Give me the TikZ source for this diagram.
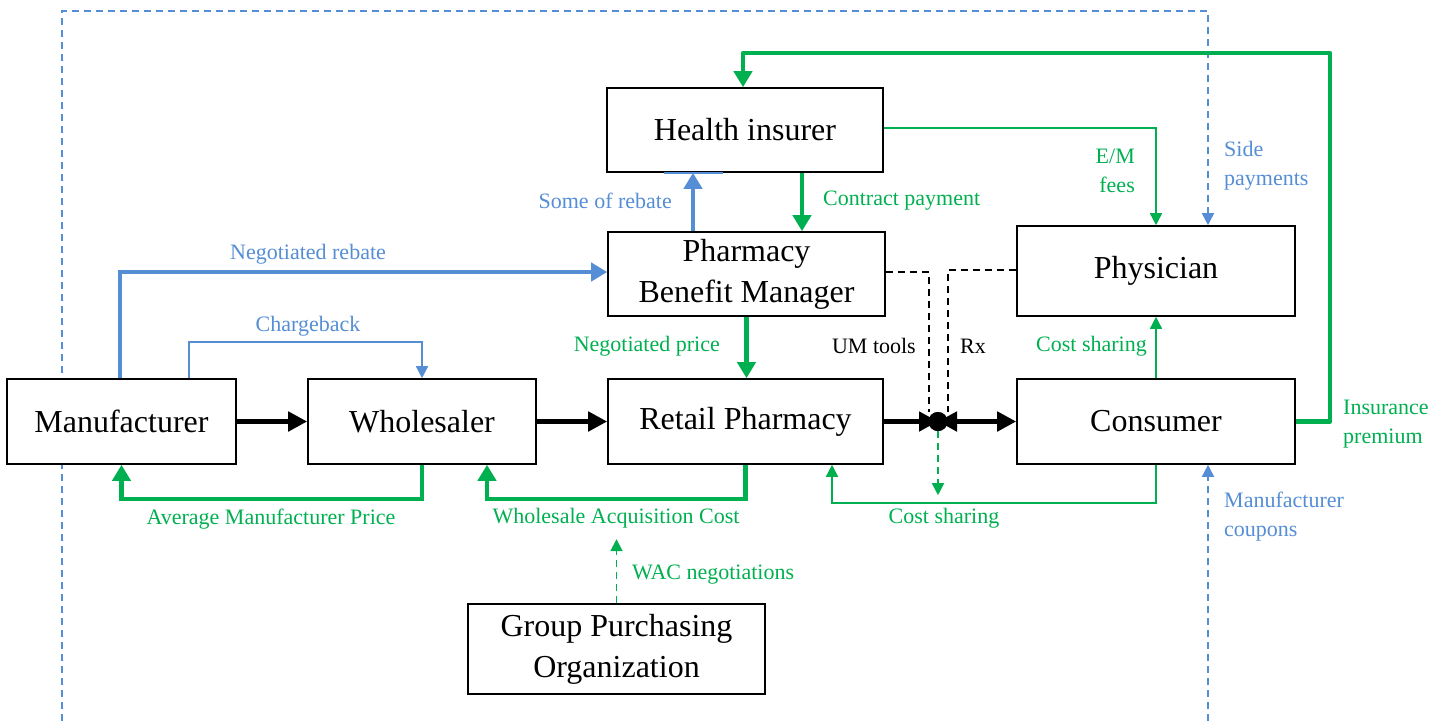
\documentclass[tikz,border=0pt]{standalone}
\usepackage{fontspec}
\setmainfont{Liberation Serif}
\usetikzlibrary{arrows.meta}
\pgfdeclarelayer{background}
\pgfsetlayers{background,main}
\definecolor{myblue}{RGB}{85,142,213}
\definecolor{mygreen}{RGB}{0,176,80}
\begin{document}
\begin{tikzpicture}[x=1pt,y=-1pt,
  box/.style={draw=black, line width=1.6pt, fill=white, inner sep=0pt, align=center,
    font=\fontsize{32}{41}\selectfont},
  lbl/.style={inner sep=0pt, font=\fontsize{22}{29}\selectfont},
  bl/.style={lbl, text=myblue},
  gl/.style={lbl, text=mygreen},
  kl/.style={lbl, text=black},
  blk/.style={line width=5pt, black},
  bthick/.style={line width=4.5pt, myblue},
  bthin/.style={line width=1.6pt, myblue},
  bdash/.style={line width=1.6pt, myblue, dash pattern=on 7pt off 5pt},
  gthick/.style={line width=4.5pt, mygreen},
  gthin/.style={line width=1.6pt, mygreen},
  gdash/.style={line width=1.8pt, mygreen, dash pattern=on 7pt off 5pt},
  kdash/.style={line width=1.6pt, black, dash pattern=on 7pt off 5pt},
  bigtip/.style={-{Triangle[length=19pt,width=19pt]}},
  midtip/.style={-{Triangle[length=16pt,width=18pt]}},
  smalltip/.style={-{Triangle[length=12pt,width=12pt]}},
]
\useasboundingbox (0,0) rectangle (1451,721);

\coordinate (bleft) at (62,721);
\coordinate (btop) at (1208,11);
\coordinate (bright) at (1208,721);
\coordinate (ip) at (1330,53);

% nodes
\node[box, minimum width=229, minimum height=85] (man) at (121.5,421.5) {Manufacturer};
\node[box, minimum width=228, minimum height=85] (whl) at (422,421.5) {Wholesaler};
\node[box, minimum width=275, minimum height=85] (ret) at (745.5,421.5) {Retail Pharmacy};
\node[box, minimum width=278, minimum height=85] (con) at (1156,421.5) {Consumer};
\node[box, minimum width=278, minimum height=90] (phy) at (1156,271) {Physician};
\node[box, minimum width=277, minimum height=84] (pbm) at (746.5,274) {Pharmacy\\Benefit Manager};
\node[box, minimum width=276, minimum height=84] (hi) at (745,130) {Health insurer};
\node[box, minimum width=297, minimum height=90] (gpo) at (616.5,649) {Group Purchasing\\Organization};
\node[circle, fill=black, minimum size=19pt, inner sep=0pt] (dot) at (938,421.5) {};

\begin{pgfonlayer}{background}
% blue dashed lines
\draw[bdash, smalltip] (bleft) |- (btop) -- (btop |- phy.north);
\draw[bdash, smalltip] (bright) -- (bright |- con.south);
\end{pgfonlayer}

% black main flow
\draw[blk, bigtip] (man.east) -- (whl.west);
\draw[blk, bigtip] (whl.east) -- (ret.west);
\draw[blk, bigtip] (ret.east) -- (dot.center);
\draw[blk, {Triangle[length=19pt,width=19pt]}-{Triangle[length=19pt,width=19pt]}] (dot.center) -- (con.west);
\node[circle, fill=black, minimum size=19pt, inner sep=0pt] at (dot) {};

% black dashed
\draw[kdash] ([yshift=2pt]pbm.east) -| ([xshift=-9pt]dot.north);
\draw[kdash] ([yshift=1pt]phy.west) -| ([xshift=10pt]dot.north);
\draw[gdash, smalltip] (dot.south) -- ++(0,64);

% blue rebates
\draw[bthick, midtip] ([xshift=-1.5pt]man.north) |- ([yshift=2pt]pbm.west);
\draw[bthin, smalltip] ([xshift=67.5pt]man.north) -- ++(0,-36) -| (whl.north);
\draw[bthick, midtip] ([xshift=-53.5pt]pbm.north) -- ([xshift=-52pt]hi.south);
\draw[myblue, line width=2pt] ([xshift=-81pt]hi.south) -- ([xshift=-22pt]hi.south);

% green payments
\draw[gthick, midtip] (whl.south) -- ++(0,34) -| (man.south);
\draw[gthick, midtip] (ret.south) -- ++(0,34) -| ([xshift=65pt]whl.south);
\draw[gdash, smalltip] (gpo.north) -- ++(0,-64);
\draw[gthick, midtip] ([xshift=57pt]hi.south) -- ([xshift=57pt]hi.south |- pbm.north);
\draw[gthick, midtip] (pbm.south) -- (pbm.south |- ret.north);
\draw[gthin, smalltip] ([yshift=2pt]hi.east) -| (phy.north);
\draw[gthin, smalltip] (con.north) -- (phy.south);
\draw[gthin, smalltip] (con.south) -- ++(0,38) -| ([xshift=86.5pt]ret.south);
\draw[gthick, midtip, line join=round] (con.east) -| (ip) -| ([xshift=-2pt]hi.north);

% labels
\node[bl] at (308,254) {Negotiated rebate};
\node[bl] at (308,326) {Chargeback};
\node[gl] at (271,519) {Average Manufacturer Price};
\node[gl] at (616,518) {Wholesale Acquisition Cost};
\node[gl, anchor=west] at (632,575) {WAC negotiations};
\node[bl, anchor=east] at (672,201) {Some of rebate};
\node[gl, anchor=west] at (823,201) {Contract payment};
\node[gl, anchor=east] at (720,346) {Negotiated price};
\node[kl, anchor=east] at (916,346) {UM tools};
\node[kl, anchor=west] at (960,346) {Rx};
\node[gl, anchor=east] at (1147,346) {Cost sharing};
\node[gl] at (944,518) {Cost sharing};
\node[gl, anchor=east, align=right] at (1135,171) {E/M\\fees};
\node[bl, anchor=west, align=left] at (1224,166) {Side\\payments};
\node[bl, anchor=west, align=left] at (1224,517) {Manufacturer\\coupons};
\node[gl, anchor=west, align=left] at (1343,424) {Insurance\\premium};
\end{tikzpicture}
\end{document}
